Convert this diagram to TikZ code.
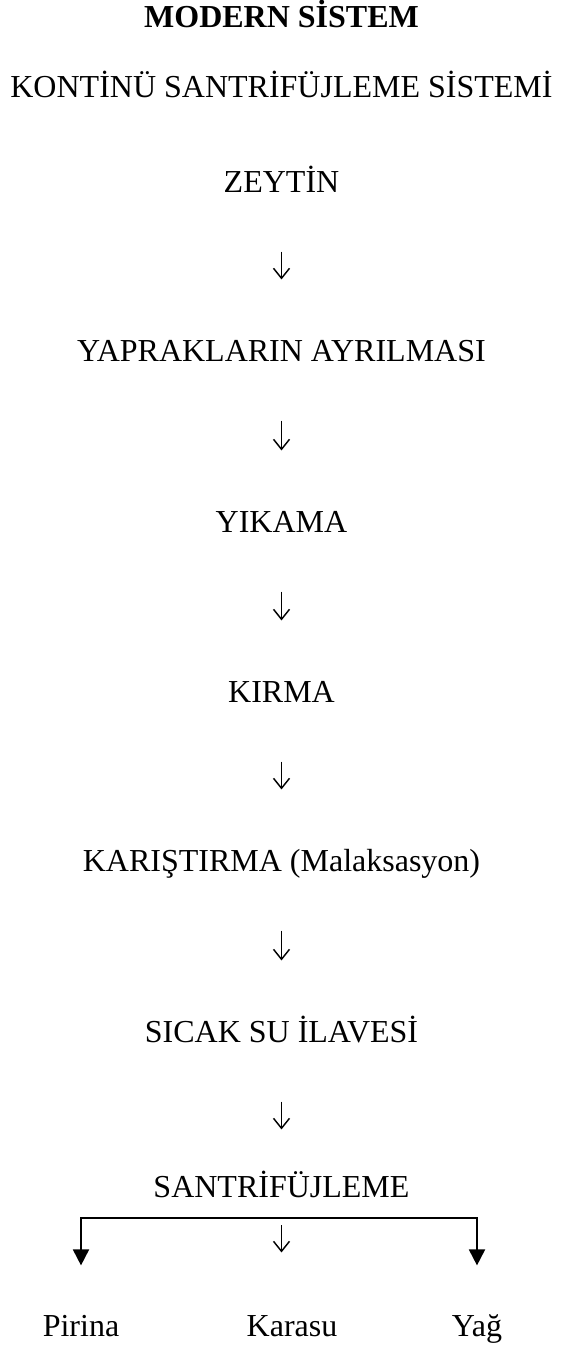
\documentclass[tikz,border=0pt]{standalone}
\usepackage{fontspec}
\setmainfont{Liberation Serif}
\usetikzlibrary{arrows.meta}
\begin{document}
\begin{tikzpicture}[x=0.75pt,y=-0.75pt,
  every node/.style={inner sep=0pt, anchor=south, text height=16pt, text depth=0pt,
    font=\fontsize{24}{28}\selectfont},
  title/.style={font=\fontsize{24}{28}\selectfont\bfseries},
  flow/.style={draw, line width=1pt,
    -{Straight Barb[length=7.5pt,width=12pt,line width=1.1pt]},
    shorten <=44pt, shorten >=45.5pt},
  fork/.style={draw, line width=1.4pt, -{Triangle[length=12pt,width=12pt]}},
]
\useasboundingbox (0,0) rectangle (562,1349);

% headings
\node[title] (title)  at (281.5,28)  {MODERN SİSTEM};
\node        (system) at (281.5,98)  {KONTİNÜ SANTRİFÜJLEME SİSTEMİ};

% process steps
\node (zeytin) at (281.5,193)  {ZEYTİN};
\node (yaprak) at (281.5,362)  {YAPRAKLARIN AYRILMASI};
\node (yikama) at (281.5,533)  {YIKAMA};
\node (kirma)  at (281.5,703)  {KIRMA};
\node (karis)  at (281.5,872)  {KARIŞTIRMA (Malaksasyon)};
\node (sicak)  at (281.5,1043) {SICAK SU İLAVESİ};
\node (santr)  at (281.5,1198) {SANTRİFÜJLEME};

% products
\node (pirina) at (81,1337)  {Pirina};
\node (karasu) at (292,1337) {Karasu};
\node (yag)    at (477,1337) {Yağ};

% step arrows
\draw[flow] (zeytin) -- (yaprak);
\draw[flow] (yaprak) -- (yikama);
\draw[flow] (yikama) -- (kirma);
\draw[flow] (kirma)  -- (karis);
\draw[flow] (karis)  -- (sicak);
\draw[flow, shorten >=35pt] (sicak) -- (santr);

% branching to the products
\coordinate (bar) at ([yshift=-15pt]santr.south);
\draw[fork, shorten >=37.3pt] (bar) -| (pirina.north);
\draw[fork, shorten >=37.3pt] (bar) -| (yag.north);
\draw[flow, shorten <=5.25pt, shorten >=47pt] (bar) -- (bar |- karasu.north);
\end{tikzpicture}
\end{document}
